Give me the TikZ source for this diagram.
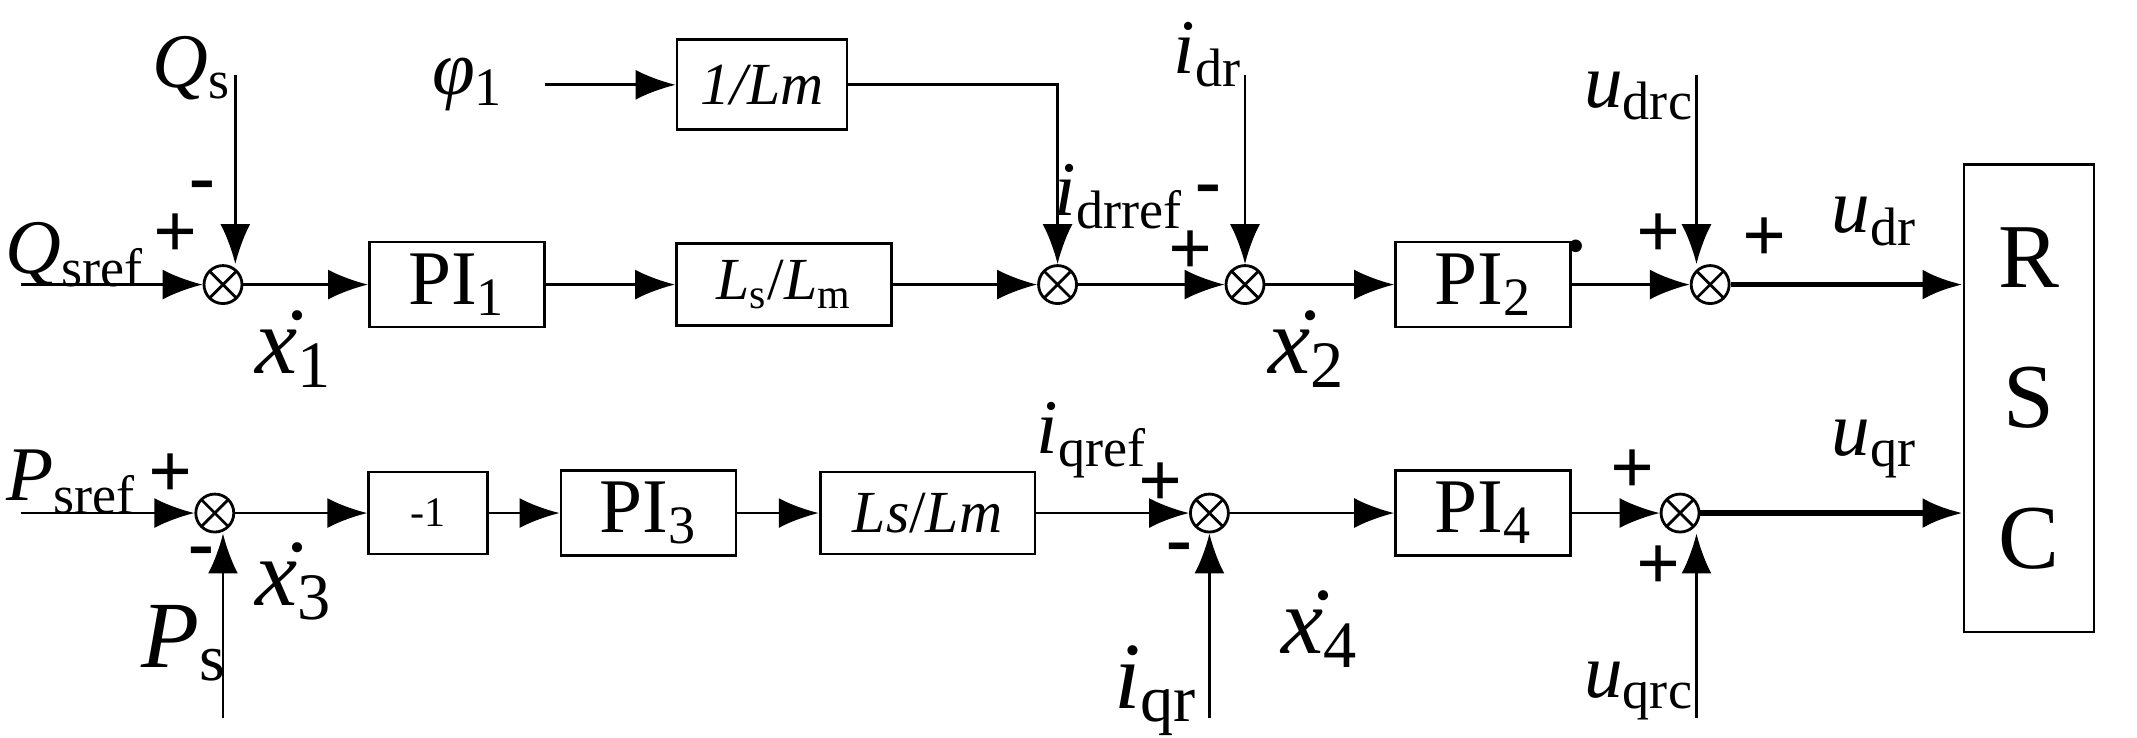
\documentclass[tikz,border=0pt]{standalone}
\usepackage{fontspec}
\setmainfont{Liberation Serif}
\usetikzlibrary{arrows.meta}
\newcommand{\vr}[2]{\textit{#1}\textsubscript{#2}}
\newcommand{\xd}[1]{\.{\textit{x}}\textsubscript{#1}}
\begin{document}
\begin{tikzpicture}[x=0.01368cm,y=-0.01368cm,
    blk/.style={draw,thick,minimum height=0.82cm,font=\fontsize{22}{24}\selectfont},
    sum/.style={draw,thick,circle,minimum size=0.38cm,inner sep=0pt,
      path picture={\draw (path picture bounding box.north west)--(path picture bounding box.south east)
        (path picture bounding box.north east)--(path picture bounding box.south west);}},
    lab/.style={font=\fontsize{22}{24}\selectfont},
    big/.style={font=\fontsize{27}{28}\selectfont},
    sg/.style={font=\bfseries\fontsize{22}{22}\selectfont},
    arr/.style={thick,-{Latex[length=4mm,width=3mm]}}]
\useasboundingbox (0,0) rectangle (1562,539);
% top row
\node[sum] (s1) at (163,208) {};
\node[blk,minimum width=1.75cm] (pi1) at (334,208) {PI\textsubscript{1}};
\node[blk,minimum width=2.15cm,font=\fontsize{17}{18}\selectfont] (lsm1) at (573,208) {\vr{L}{s}/\vr{L}{m}};
\node[blk,minimum width=1.7cm,minimum height=0.9cm,font=\fontsize{17}{18}\selectfont] (ilm) at (557,62) {\textit{1/Lm}};
\node[sum] (s2) at (773,208) {};
\node[sum] (s3) at (910,208) {};
\node[blk,minimum width=1.75cm] (pi2) at (1084,208) {PI\textsubscript{2}};
\node[sum] (s4) at (1250,208) {};
\node[draw,thick,minimum width=1.3cm,minimum height=4.68cm,align=center,
  font=\fontsize{26}{40}\selectfont] (rsc) at (1483,291) {R\\S\\C};
\coordinate (qin) at (15,208);
\coordinate (qs) at (172,55);
\coordinate (phi) at (398,62);
\coordinate (idr) at (910,55);
\coordinate (udrc) at (1240,55);
\node[lab] at (55,186) {\vr{Q}{sref}};
\node[lab] at (140,50) {\vr{Q}{s}};
\node[lab] at (342,62) {\textit{φ}\textsubscript{1}};
\node[lab] at (883,40) {\vr{i}{dr}};
\node[lab] at (1198,70) {\vr{u}{drc}};
\node[lab] at (818,144) {\vr{i}{drref}};
\node[lab] at (1370,162) {\vr{u}{dr}};
\node[big] at (215,255) {\xd{1}};
\node[big] at (955,255) {\xd{2}};
\draw[arr] (qin) -- (s1);
\draw[arr] (qs) -- (qs|-s1.north);
\draw[arr] (s1) -- (pi1);
\draw[arr] (pi1) -- (lsm1);
\draw[arr] (lsm1) -- (s2);
\draw[arr] (phi) -- (ilm);
\draw[arr] (ilm.east) -| (s2.north);
\draw[arr] (s2) -- (s3);
\draw[arr] (idr) -- (s3);
\draw[arr] (s3) -- (pi2);
\draw[arr] (pi2) -- (s4);
\draw[arr] (udrc) -- (udrc|-s4.north);
\draw[arr,line width=1.6pt] (s4) -- (s4-|rsc.west);
\node[sg] at (128,172) {+};
\node[sg] at (148,140) {-};
\node[sg] at (870,185) {+};
\node[sg] at (883,143) {-};
\node[sg] at (1152,180) {.};
\node[sg] at (1212,172) {+};
\node[sg] at (1290,175) {+};
% bottom row
\node[sum] (s5) at (157,375) {};
\node[blk,minimum width=1.19cm,font=\fontsize{12}{14}\selectfont] (neg) at (313,375) {-1};
\node[blk,minimum width=1.75cm] (pi3) at (474,375) {PI\textsubscript{3}};
\node[blk,minimum width=2.15cm,font=\fontsize{17}{18}\selectfont] (lsm2) at (678,375) {\textit{Ls}/\textit{Lm}};
\node[sum] (s6) at (884,375) {};
\node[blk,minimum width=1.75cm] (pi4) at (1084,375) {PI\textsubscript{4}};
\node[sum] (s7) at (1228,375) {};
\coordinate (pin) at (15,375);
\coordinate (ps) at (163,525);
\coordinate (iqr) at (884,525);
\coordinate (uqrc) at (1240,525);
\node[lab] at (52,352) {\vr{P}{sref}};
\node[big] at (135,470) {\vr{P}{s}};
\node[lab] at (798,322) {\vr{i}{qref}};
\node[big] at (845,505) {\vr{i}{qr}};
\node[lab] at (1198,505) {\vr{u}{qrc}};
\node[lab] at (1370,328) {\vr{u}{qr}};
\node[big] at (215,425) {\xd{3}};
\node[big] at (965,460) {\xd{4}};
\draw[arr] (pin) -- (s5);
\draw[arr] (ps) -- (ps|-s5.south);
\draw[arr] (s5) -- (neg);
\draw[arr] (neg) -- (pi3);
\draw[arr] (pi3) -- (lsm2);
\draw[arr] (lsm2) -- (s6);
\draw[arr] (iqr) -- (s6);
\draw[arr] (s6) -- (pi4);
\draw[arr] (pi4) -- (s7);
\draw[arr] (uqrc) -- (uqrc|-s7.south);
\draw[arr,line width=1.6pt] (s7) -- (s7-|rsc.west);
\node[sg] at (125,348) {+};
\node[sg] at (147,408) {-};
\node[sg] at (848,354) {+};
\node[sg] at (862,405) {-};
\node[sg] at (1193,345) {+};
\node[sg] at (1212,415) {+};
\end{tikzpicture}
\end{document}
